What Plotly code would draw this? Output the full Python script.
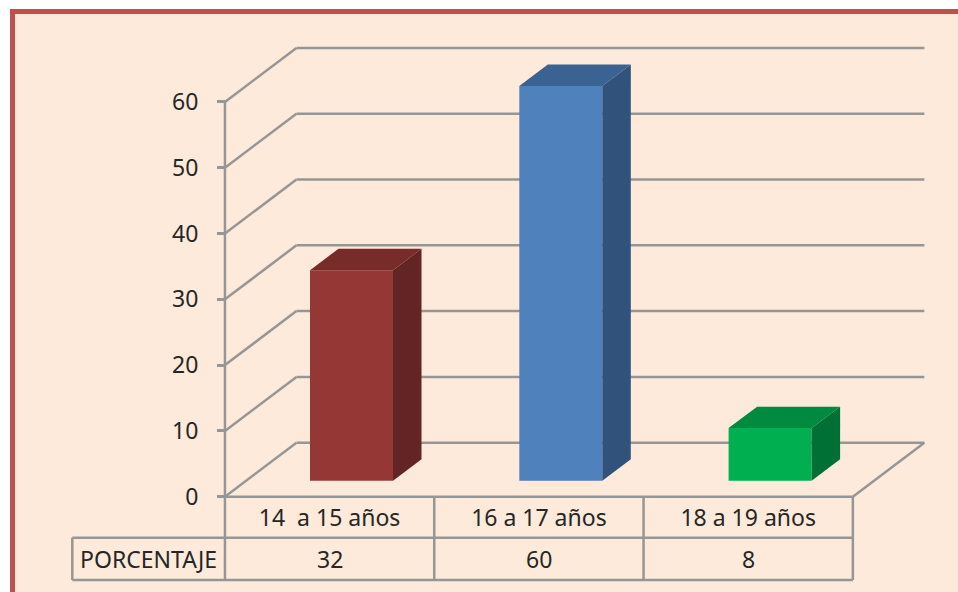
import plotly.graph_objects as go

# datos del grafico
categorias = ["14  a 15 años", "16 a 17 años", "18 a 19 años"]
porcentaje = [32, 60, 8]
ticks_y = [0, 10, 20, 30, 40, 50, 60]
fila = "PORCENTAJE"

# colores de cada barra: frente, lado, tapa
frente = ["#953735", "#4F81BD", "#00B050"]
lado = ["#632523", "#31527B", "#007034"]
tapa = ["#772C2A", "#3B6391", "#008A3F"]

GRIS = "#969696"
TEXTO = "#262626"
FONDO = "#FDEADA"
BORDE = "#C0504D"

W, H = 958, 592

# escalas: pixeles de la imagen por unidad de cada eje
PX_X = 209.3
PX_Y = 6.58
X0_PX = 329.6  # centro de la primera categoria
Y0_PX = 496.7  # valor 0 en el eje


def ux(px):
    return px / PX_X


def uy(px):
    return px / PX_Y


# profundidad de la pared y de las barras
prof_x, prof_y = ux(71.5), uy(54)
barra_dx, barra_dy = ux(28.5), uy(21.4)
barra_x, barra_base, barra_ancho = ux(21.9), uy(16), ux(83)
x_izq, x_der = -0.5, 2.5
fila1 = uy(-41)
fila2 = uy(-83.3)
x_tabla = ux(72.3 - X0_PX)

fig = go.Figure()

# caras frontales
fig.add_trace(go.Bar(
    x=[i + barra_x for i in range(len(porcentaje))],
    y=porcentaje,
    base=[barra_base] * len(porcentaje),
    width=barra_ancho,
    marker=dict(color=frente, line=dict(width=0)),
    hoverinfo="skip",
))

# lado y tapa de cada barra
for i, v in enumerate(porcentaje):
    x0 = i + barra_x - barra_ancho / 2
    x1 = i + barra_x + barra_ancho / 2
    y0 = barra_base
    y1 = barra_base + v
    fig.add_trace(go.Scatter(
        x=[x1, x1 + barra_dx, x1 + barra_dx, x1, x1],
        y=[y0, y0 + barra_dy, y1 + barra_dy, y1, y0],
        fill="toself", fillcolor=lado[i], mode="none", hoverinfo="skip",
    ))
    fig.add_trace(go.Scatter(
        x=[x0, x0 + barra_dx, x1 + barra_dx, x1, x0],
        y=[y1, y1 + barra_dy, y1 + barra_dy, y1, y1],
        fill="toself", fillcolor=tapa[i], mode="none", hoverinfo="skip",
    ))

linea = dict(color=GRIS, width=2.5)


def segmento(x0, y0, x1, y1):
    return dict(type="line", xref="x", yref="y", x0=x0, y0=y0, x1=x1, y1=y1,
                line=linea, layer="below")


# fondo y marco
shapes = [dict(type="rect", xref="paper", yref="paper",
               x0=12.5 / W, x1=1.05, y0=-0.05, y1=1 - 11.5 / H,
               fillcolor=FONDO, line=dict(color=BORDE, width=5), layer="below")]

# rejilla: pared lateral y pared del fondo
for t in ticks_y:
    shapes.append(segmento(x_izq, t, x_izq + prof_x, t + prof_y))
    shapes.append(segmento(x_izq + prof_x, t + prof_y, x_der + prof_x, t + prof_y))

# ejes y piso
shapes.append(segmento(x_izq, fila2, x_izq, ticks_y[-1]))
shapes.append(segmento(x_izq, 0, x_der, 0))
shapes.append(segmento(x_der, 0, x_der + prof_x, prof_y))

# tabla de datos
shapes.append(segmento(x_tabla, fila1, x_der, fila1))
shapes.append(segmento(x_tabla, fila2, x_der, fila2))
shapes.append(segmento(x_tabla, fila1, x_tabla, fila2))
for i in range(len(categorias)):
    shapes.append(segmento(i + 0.5, 0, i + 0.5, fila2))

fuente_tabla = dict(family="Noto Sans", size=23, color=TEXTO)
anotaciones = [dict(x=i, y=(fila1 + fila2) / 2, text=str(v), showarrow=False,
                    xref="x", yref="y", font=fuente_tabla)
               for i, v in enumerate(porcentaje)]
anotaciones.append(dict(x=(x_tabla + x_izq) / 2, y=(fila1 + fila2) / 2, text=fila,
                        showarrow=False, xref="x", yref="y", font=fuente_tabla))

fig.update_layout(
    width=W, height=H,
    margin=dict(l=0, r=0, t=0, b=0),
    paper_bgcolor="white",
    plot_bgcolor="rgba(0,0,0,0)",
    showlegend=False,
    shapes=shapes,
    annotations=anotaciones,
    xaxis=dict(
        range=[-X0_PX / PX_X, (W - X0_PX) / PX_X],
        anchor="free", position=(H - Y0_PX) / H,
        tickmode="array", tickvals=list(range(len(categorias))), ticktext=categorias,
        tickfont=fuente_tabla, ticklabelstandoff=5,
        showgrid=False, zeroline=False, showline=False, ticks="",
    ),
    yaxis=dict(
        range=[(Y0_PX - H) / PX_Y, Y0_PX / PX_Y],
        anchor="free", position=(X0_PX - 0.5 * PX_X) / W,
        tickmode="array", tickvals=ticks_y,
        tickfont=dict(family="Noto Sans", size=23, color=TEXTO),
        ticks="outside", ticklen=8, tickwidth=2.5, tickcolor=GRIS,
        ticklabelstandoff=14,
        showgrid=False, zeroline=False, showline=False,
    ),
)

# quita el margen del body para que el grafico empiece en 0,0
fig.write_html("out.html", config=dict(displayModeBar=False),
               post_script="document.body.style.margin='0';document.body.style.overflow='hidden';")
